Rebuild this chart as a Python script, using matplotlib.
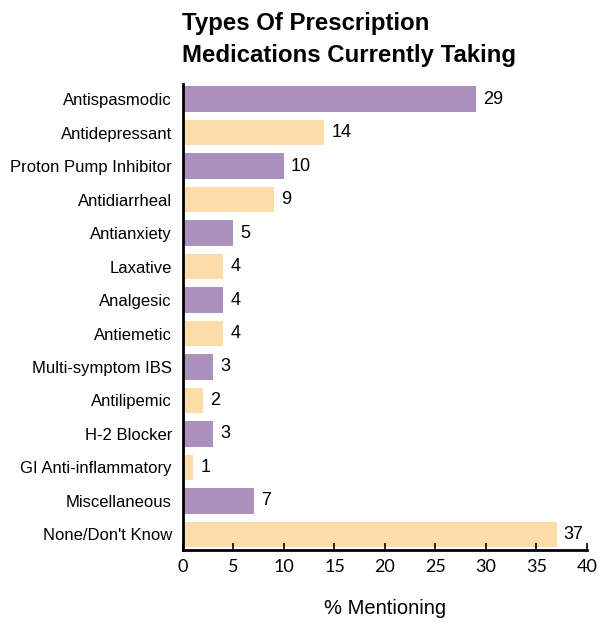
import matplotlib
matplotlib.use("Agg")
import matplotlib.pyplot as plt
import numpy as np

# =========================
# Data
# =========================
categories = [
    "Antispasmodic", "Antidepressant", "Proton Pump Inhibitor", "Antidiarrheal",
    "Antianxiety", "Laxative", "Analgesic", "Antiemetic", "Multi-symptom IBS",
    "Antilipemic", "H-2 Blocker", "GI Anti-inflammatory", "Miscellaneous",
    "None/Don't Know",
]
values = [29, 14, 10, 9, 5, 4, 4, 4, 3, 2, 3, 1, 7, 37]
x_ticks = [0, 5, 10, 15, 20, 25, 30, 35, 40]

purple = "#ab8fbc"
peach = "#fcdca8"
bar_colors = [purple if i % 2 == 0 else peach for i in range(len(categories))]

narrow = ["Liberation Sans Narrow", "Liberation Sans", "DejaVu Sans"]

# =========================
# Figure
# =========================
fig = plt.figure(figsize=(5.98, 6.22), dpi=100)
ax = fig.add_axes([0.306, 0.1165, 0.6756, 0.7485])

y = np.arange(len(categories))
ax.barh(y, values, height=0.75, color=bar_colors)

for yi, v in zip(y, values):
    ax.text(v + 0.7, yi, str(v), va="center", ha="left", fontsize=13, family=narrow)

ax.set_ylim(len(categories) - 0.55, -0.45)
ax.set_xlim(0, 40)
ax.set_yticks(y)
ax.set_yticklabels(categories, family=narrow, fontsize=12)
ax.set_xticks(x_ticks)
ax.set_xticklabels([str(t) for t in x_ticks], family=["Lato", "DejaVu Sans"], fontsize=13)
ax.tick_params(axis="y", length=0, pad=8)
ax.tick_params(axis="x", direction="in", length=5, width=1.2, pad=7)

for s in ["top", "right"]:
    ax.spines[s].set_visible(False)
for s in ["left", "bottom"]:
    ax.spines[s].set_linewidth(2)

ax.set_xlabel("% Mentioning", family=narrow, fontsize=14.5, labelpad=17)

fig.text(0.304, 0.936, "Types Of Prescription\nMedications Currently Taking",
         family=narrow, fontsize=17.3, fontweight="bold", ha="left", va="center",
         linespacing=1.5)

fig.savefig("out.png", dpi=100)
